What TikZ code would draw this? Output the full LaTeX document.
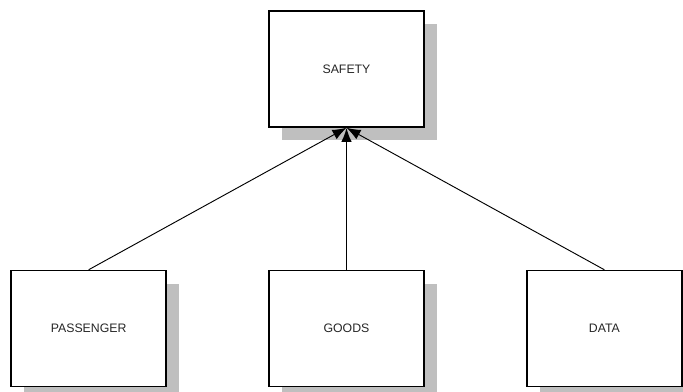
\documentclass[tikz,border=0pt]{standalone}
\usepackage{fontspec}
\setmainfont{Liberation Sans}
\usepackage{tikz}
\usetikzlibrary{positioning,arrows.meta,shadows}
\definecolor{shadowgray}{rgb}{0.75,0.75,0.75}
\tikzstyle{block} = [rectangle, draw=black, line width=1.3pt, fill=white, minimum width=4.65cm, minimum height=3.48cm, text=black!85, font=\fontsize{10.5}{12}\selectfont, drop shadow={shadow xshift=0.38cm, shadow yshift=-0.4cm, fill=shadowgray, opacity=1}]
\tikzstyle{arrow} = [line width=0.8pt, -{Latex[length=12pt, width=9pt]}]

\begin{document}
\begin{tikzpicture}[node distance=4.26cm and 3.04cm]
	\useasboundingbox (0,0) rectangle (20.49,-11.76);
	\node[block] (safety) at (10.395,-2.07) {SAFETY};
	\node[block, below=of safety] (goods) {GOODS};
	\node[block, left=of goods] (passenger) {PASSENGER};
	\node[block, right=of goods] (data) {DATA};
	\draw[arrow] (passenger.north) -- (safety.south);
	\draw[arrow, line width=1.5pt] (goods.north) -- (safety.south);
	\draw[arrow] (data.north) -- (safety.south);
\end{tikzpicture}
\end{document}
